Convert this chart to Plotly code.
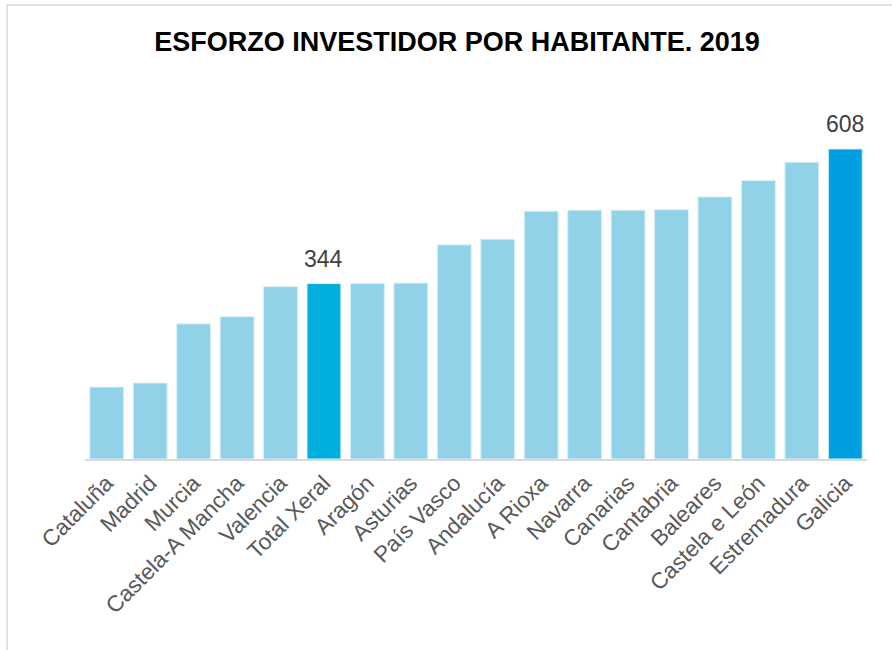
import plotly.graph_objects as go

categories = ["Cataluña", "Madrid", "Murcia", "Castela-A Mancha", "Valencia", "Total Xeral",
              "Aragón", "Asturias", "País Vasco", "Andalucía", "A Rioxa", "Navarra", "Canarias",
              "Cantabria", "Baleares", "Castela e León", "Estremadura", "Galicia"]
values = [141, 149, 265, 279, 338, 344, 344, 345, 420, 431, 486, 488, 488, 489, 514, 546, 582, 608]
labelled = ["Total Xeral", "Galicia"]

base_color = "#92D2E9"
special_colors = {"Total Xeral": "#00AFDE", "Galicia": "#009FE0"}
colors = [special_colors.get(c, base_color) for c in categories]

fig = go.Figure()
fig.add_trace(go.Bar(
    x=categories, y=values,
    marker=dict(color=colors, line=dict(color="#D8F0F8", width=1)),
    hoverinfo="x+y",
))

for c, v in zip(categories, values):
    if c in labelled:
        fig.add_annotation(x=c, y=v, text=str(v), showarrow=False, yanchor="bottom",
                           yshift=10, font=dict(family="Liberation Sans, Arial", size=23, color="#404040"))

fig.update_layout(
    width=892, height=650,
    margin=dict(l=85, r=25, t=100, b=191),
    paper_bgcolor="white", plot_bgcolor="white",
    bargap=0.22,
    showlegend=False,
    title=dict(text="<b>ESFORZO INVESTIDOR POR HABITANTE. 2019</b>", x=457 / 892, xanchor="center",
               xref="paper" if False else "container",
               y=1 - 42 / 650, yanchor="middle",
               font=dict(family="Liberation Sans, Arial", size=27, color="#000000")),
    font=dict(family="Liberation Sans, Arial"),
    xaxis=dict(showline=True, linecolor="#D9D9D9", linewidth=2, tickangle=-45,
               tickfont=dict(size=22.5, color="#595959"), ticks="", showgrid=False,
               automargin=False),
    yaxis=dict(range=[0, 704], visible=False, showgrid=False, zeroline=False),
    shapes=[dict(type="rect", xref="paper", yref="paper",
                 x0=-78 / 782, x1=1 + 40 / 782, y0=-200 / 359, y1=1 + 95 / 359,
                 line=dict(color="#D9D9D9", width=1.5), layer="below")],
)

fig.write_html("out.html", config={"displayModeBar": False})

with open("out.html", "r", encoding="utf-8") as f:
    html = f.read()
html = html.replace("<head>", "<head><style>html,body{margin:0;padding:0;overflow:hidden;}</style>", 1)
with open("out.html", "w", encoding="utf-8") as f:
    f.write(html)
